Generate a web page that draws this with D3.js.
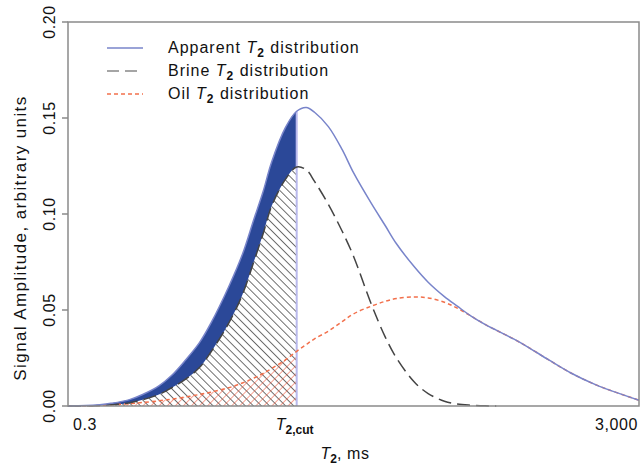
<!DOCTYPE html>
<html>
<head>
<meta charset="utf-8">
<script src="https://cdn.jsdelivr.net/npm/d3@7"></script>
<style>
  body { margin: 0; background: #fff; }
  text { font-family: "Liberation Sans", Arial, sans-serif; fill: #111; }
</style>
</head>
<body>
<div id="chart"></div>
<script>
// T2 sample points, ms
var t2 = [0.3, 0.4, 0.5, 0.6, 0.8, 1, 1.3, 1.6, 2, 2.5, 3, 4, 5, 6, 7, 8, 10, 12, 14, 16, 20, 25, 30, 40, 50, 60, 80, 100, 130, 160, 200, 250, 300, 400, 500, 700, 1000, 1500, 2000, 3000];
var brine = [0, 0.0001, 0.0003, 0.0006, 0.0016, 0.0033, 0.006, 0.0095, 0.014, 0.020, 0.028, 0.043, 0.058, 0.075, 0.090, 0.104, 0.118, 0.1245, 0.123, 0.117, 0.105, 0.091, 0.078, 0.053, 0.036, 0.025, 0.0125, 0.0065, 0.0025, 0.001, 0.0004, 0.0001, 0, 0, 0, 0, 0, 0, 0, 0];
var oil = [0, 0.0001, 0.0003, 0.0006, 0.0012, 0.0018, 0.0027, 0.0036, 0.0047, 0.006, 0.0072, 0.0095, 0.012, 0.0145, 0.017, 0.0195, 0.024, 0.0285, 0.032, 0.035, 0.039, 0.044, 0.048, 0.052, 0.0545, 0.056, 0.0568, 0.0563, 0.054, 0.051, 0.0468, 0.0425, 0.0395, 0.0348, 0.0307, 0.024, 0.0172, 0.011, 0.0075, 0.003];
var apparent = [0, 0.0002, 0.0007, 0.0014, 0.0032, 0.006, 0.0105, 0.016, 0.024, 0.033, 0.043, 0.062, 0.079, 0.097, 0.112, 0.127, 0.145, 0.1535, 0.1555, 0.153, 0.1455, 0.1335, 0.1215, 0.1055, 0.094, 0.0845, 0.0725, 0.0645, 0.057, 0.052, 0.0468, 0.0425, 0.0395, 0.0348, 0.0307, 0.024, 0.0172, 0.011, 0.0075, 0.003];
var t2cut = 12;
var yTicks = [0, 0.05, 0.10, 0.15, 0.20];
var legendNames = ["Apparent", "Brine", "Oil"];

var W = 641, H = 466;
var m = {top: 22, right: 2, bottom: 60, left: 68};

var svg = d3.select("#chart").append("svg").attr("width", W).attr("height", H);

var x = d3.scaleLog().domain([0.3, 3000]).range([m.left, W - m.right]);
var y = d3.scaleLinear().domain([0, 0.2]).range([H - m.bottom, m.top]);

var pts = t2.map(function(t, i){ return {t: t, b: brine[i], o: oil[i], a: apparent[i]}; });

var defs = svg.append("defs");
defs.append("clipPath").attr("id", "cut")
  .append("rect")
  .attr("x", x(0.3)).attr("y", y(0.2))
  .attr("width", x(t2cut) - x(0.3)).attr("height", y(0) - y(0.2));

var hatch = defs.append("pattern").attr("id", "hatch")
  .attr("patternUnits", "userSpaceOnUse").attr("width", 5.7).attr("height", 5.7)
  .attr("patternTransform", "rotate(-45)");
hatch.append("line").attr("x1", 0).attr("y1", 0).attr("x2", 0).attr("y2", 5.7)
  .style("stroke", "#333").style("stroke-width", 1.4);

var redHatch = defs.append("pattern").attr("id", "redhatch")
  .attr("patternUnits", "userSpaceOnUse").attr("width", 5.7).attr("height", 5.7)
  .attr("patternTransform", "rotate(45)");
redHatch.append("line").attr("x1", 0).attr("y1", 0).attr("x2", 0).attr("y2", 5.7)
  .style("stroke", "#f0583c").style("stroke-width", 1.1);

var curve = d3.curveCatmullRom.alpha(0.5);

var fills = svg.append("g").attr("clip-path", "url(#cut)");

fills.append("path")
  .attr("d", d3.area().curve(curve).x(function(d){ return x(d.t); })
    .y0(function(d){ return y(d.b); }).y1(function(d){ return y(d.a); })(pts))
  .style("fill", "#2b4898");

fills.append("path")
  .attr("d", d3.area().curve(curve).x(function(d){ return x(d.t); })
    .y0(y(0)).y1(function(d){ return y(d.b); })(pts))
  .style("fill", "url(#hatch)");

fills.append("path")
  .attr("d", d3.area().curve(curve).x(function(d){ return x(d.t); })
    .y0(y(0)).y1(function(d){ return y(d.o); })(pts))
  .style("fill", "url(#redhatch)");

// cut-off line
var aCut = apparent[t2.indexOf(t2cut)];
svg.append("line")
  .attr("x1", x(t2cut)).attr("x2", x(t2cut))
  .attr("y1", y(0)).attr("y2", y(aCut))
  .style("stroke", "#b9b9ec").style("stroke-width", 2);

function line(key){
  return d3.line().curve(curve).x(function(d){ return x(d.t); }).y(function(d){ return y(d[key]); });
}

svg.append("path").attr("d", line("o")(pts))
  .style("fill", "none").style("stroke", "#f2704c").style("stroke-width", 1.5)
  .style("stroke-dasharray", "4,3");
svg.append("path").attr("d", line("b")(pts.filter(function(d, i){ return i < 33; })))
  .style("fill", "none").style("stroke", "#444").style("stroke-width", 1.5)
  .style("stroke-dasharray", "13,6");
svg.append("path").attr("d", line("a")(pts))
  .style("fill", "none").style("stroke", "#7884ca").style("stroke-width", 1.5);

// frame
svg.append("rect")
  .attr("x", x(0.3)).attr("y", y(0.2))
  .attr("width", x(3000) - x(0.3)).attr("height", y(0) - y(0.2))
  .style("fill", "none").style("stroke", "#8a8a8a").style("stroke-width", 1.5);

// y axis ticks and labels
var yAxis = svg.append("g");
yAxis.selectAll("line").data(yTicks).enter().append("line")
  .attr("x1", m.left - 6).attr("x2", m.left)
  .attr("y1", function(d){ return y(d); }).attr("y2", function(d){ return y(d); })
  .style("stroke", "#8a8a8a").style("stroke-width", 1.5);
yAxis.selectAll("text").data(yTicks).enter().append("text")
  .attr("transform", function(d){ return "translate(55," + y(d) + ") rotate(-90)"; })
  .attr("text-anchor", "middle")
  .style("font-size", "16px").style("letter-spacing", "0.6px")
  .text(function(d){ return d3.format(".2f")(d); });

svg.append("text")
  .attr("transform", "translate(26,238) rotate(-90)")
  .attr("text-anchor", "middle")
  .style("font-size", "17px").style("letter-spacing", "1.4px")
  .text("Signal Amplitude, arbitrary units");

// x labels
var xl = y(0) + 24;
svg.append("text").attr("x", x(0.3) + 5).attr("y", xl)
  .style("font-size", "16px").style("letter-spacing", "0.6px").text("0.3");
svg.append("text").attr("x", x(3000) - 1).attr("y", xl).attr("text-anchor", "end")
  .style("font-size", "16px").style("letter-spacing", "0.6px").text("3,000");

var cutLbl = svg.append("text").attr("x", x(t2cut) - 2).attr("y", xl).attr("text-anchor", "middle")
  .style("font-size", "16px");
cutLbl.append("tspan").style("font-style", "italic").text("T");
cutLbl.append("tspan").attr("dy", 4).style("font-size", "12px").style("font-weight", "bold").text("2,cut");

var xt = svg.append("text").attr("x", 345).attr("y", y(0) + 53).attr("text-anchor", "middle")
  .style("font-size", "16px");
xt.append("tspan").style("font-style", "italic").text("T");
xt.append("tspan").attr("dy", 4).style("font-size", "12px").style("font-weight", "bold").text("2");
xt.append("tspan").attr("dy", -4).style("letter-spacing", "0.6px").text(", ms");

// legend
var legStyles = [
  {stroke: "#7884ca", dash: null},
  {stroke: "#888", dash: "12,6"},
  {stroke: "#f2704c", dash: "4,3"}
];
var leg = svg.append("g");
legendNames.forEach(function(name, i){
  var ly = 48 + i * 23;
  leg.append("line").attr("x1", 107).attr("x2", 143).attr("y1", ly).attr("y2", ly)
    .style("stroke", legStyles[i].stroke).style("stroke-width", 1.5)
    .style("stroke-dasharray", legStyles[i].dash);
  var t = leg.append("text").attr("x", 168).attr("y", ly + 5)
    .style("font-size", "16px").style("letter-spacing", "1px");
  t.append("tspan").text(name + " ");
  t.append("tspan").style("font-style", "italic").text("T");
  t.append("tspan").attr("dy", 4).style("font-size", "12px").style("font-weight", "bold").text("2");
  t.append("tspan").attr("dy", -4).text(" distribution");
});
</script>
</body>
</html>
